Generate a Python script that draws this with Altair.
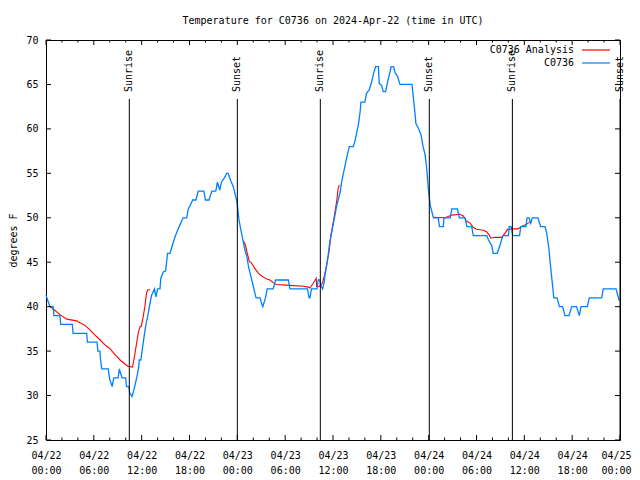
import altair as alt
import pandas as pd

FONT = "DejaVu Sans Mono"
W, H = 574, 400

# ---- data (hours since 2024-04-22 00:00 UTC, degrees F) ----
blue_hours = [0.0, 0.3, 0.5, 0.9, 1.0, 1.75, 1.85, 3.3, 3.4, 5.1, 5.2, 6.4, 6.5, 6.75, 6.85, 7.0, 7.8, 8.0, 8.3, 8.5,
              9.05, 9.2, 9.35, 9.55, 10.0, 10.1, 10.4, 10.5, 10.8, 11.1, 11.4, 11.6, 11.7, 11.9, 12.1, 12.3, 12.5, 12.75,
              13.05, 13.25, 13.6, 13.8, 14.0, 14.3, 14.4, 14.7, 15.0, 15.25, 15.55, 15.75, 16.2, 16.6, 16.9, 17.2, 17.65,
              17.85, 18.2, 18.4, 18.8, 19.1, 19.8, 20.0, 20.45, 20.8, 21.3, 21.5, 21.8, 22.0, 22.45, 22.65, 22.85, 23.2,
              23.5, 23.9, 24.05, 24.2, 24.45, 24.75, 24.95, 25.2, 25.4, 25.7, 26.0, 26.35, 26.85, 27.0, 27.2, 27.5, 27.75,
              28.5, 28.8, 30.4, 30.6, 32.8, 33.0, 33.1, 33.3, 34.0, 34.15, 34.35, 34.45, 34.7, 34.9, 35.0, 35.2, 35.4,
              35.6, 35.85, 36.05, 36.25, 36.45, 36.7, 36.9, 37.1, 37.3, 37.5, 37.8, 38.05, 38.55, 38.8, 39.0, 39.2, 39.4,
              39.5, 40.0, 40.2, 40.55, 40.85, 41.05, 41.35, 41.7, 41.8, 42.1, 42.3, 42.6, 42.85, 43.15, 43.3, 43.6, 43.8,
              44.1, 44.4, 45.9, 46.1, 46.3, 46.4, 46.7, 47.05, 47.3, 47.55, 47.75, 47.95, 48.05, 48.2, 48.4, 48.6, 49.2,
              49.35, 49.85, 49.9, 50.7, 50.9, 51.6, 51.85, 52.55, 52.8, 53.4, 53.6, 55.3, 55.5, 55.9, 56.1, 56.6, 56.95,
              57.3, 58.0, 58.1, 58.35, 58.55, 59.4, 59.55, 60.2, 60.35, 60.6, 60.8, 61.0, 61.7, 62.05, 62.6, 62.8, 63.1,
              63.2, 63.4, 63.55, 63.7, 64.1, 64.4, 64.8, 65.1, 65.6, 65.95, 66.55, 66.9, 67.1, 67.9, 68.15, 69.7, 69.9,
              71.5, 71.8, 71.9]
blue_temps = [41.3, 40.5, 40, 40, 39, 39, 38, 38, 37, 37, 36, 36, 35, 35, 34, 33, 33, 31.8, 31, 32,
              32, 33, 32.5, 32, 32, 31, 31, 30.3, 29.9, 30.9, 32.1, 33, 34, 34, 35.3, 36.6, 37.8, 38.9,
              40.4, 41.3, 42, 41.1, 42, 42, 43.2, 43.9, 44, 46, 46, 46.6, 47.9, 48.8, 49.4, 50, 50,
              51, 51.6, 52, 52, 53, 53, 52, 52, 53, 53, 54, 53.1, 54, 54.6, 55, 55, 54.1,
              53.5, 52, 51.1, 49.8, 48.6, 47.3, 46.4, 45.6, 44.5, 43.4, 42.3, 41, 41, 40.5, 40, 40.9, 42,
              42, 43, 43, 42, 42, 41, 41, 42, 42, 43, 43, 42.4, 42, 42.8, 43.6, 44.6, 45.8,
              47.3, 48.4, 49.4, 50.3, 51.3, 52.2, 52.9, 54.1, 55, 55.8, 57.1, 58, 58, 58.8, 59.7, 60.6, 61.9,
              63, 63, 64, 64.4, 65.3, 66.1, 67, 67, 65.1, 64.9, 64.2, 64.2, 65.3, 66.4, 67, 67, 66.3,
              65.9, 65, 65, 63.4, 61.6, 60.6, 60.1, 59.3, 58, 57.1, 55.6, 53.3, 52.5, 51.4, 50.7, 50, 50,
              49, 49, 50, 50, 51, 51, 50, 50, 49, 49, 48, 48, 47.5, 46.9, 46, 46, 46.9,
              48, 48, 49, 49, 48, 48, 49, 49, 50, 50, 49.4, 50, 50, 49, 49, 48.3, 46.4,
              45.3, 43.6, 42.3, 41, 41, 40, 40, 39, 39, 40, 40, 39, 40, 40, 41, 41, 42,
              42, 41, 40.7]

red_hours = [0.4, 1.1, 1.75, 2.6, 3.85, 4.25, 4.9, 5.5, 6.15, 6.8, 7.4, 8.0, 8.65, 9.3, 9.9, 10.3, 10.85, 11.1,
             11.4, 11.6, 11.8, 11.95, 12.2, 12.4, 12.6, 12.75, 13.05,
             24.75, 25.0, 25.25, 25.5, 25.8, 26.2, 26.6, 27.05, 27.7, 28.1, 28.5, 28.85, 30.6, 32.3, 32.9, 33.1,
             33.5, 33.9, 33.95, 34.3, 34.65, 34.9, 35.2, 35.5, 35.75, 36.05, 36.25, 36.45, 36.65, 36.8,
             48.6, 50.05, 50.9, 51.9, 52.35, 52.75, 53.2, 53.6, 54.0, 54.85, 55.3, 55.6, 55.8, 56.3, 57.15,
             57.6, 57.9, 58.4, 59.25, 59.55, 60.1, 60.5, 60.9]
red_temps = [40.1, 39.6, 39.1, 38.6, 38.4, 38.2, 37.9, 37.4, 36.8, 36.25, 35.7, 35.3, 34.6, 34.0, 33.55, 33.3, 33.2, 34.4,
             36.1, 37.2, 37.75, 37.8, 38.9, 40.0, 41.5, 41.9, 41.9,
             47.4, 47.0, 46.0, 45.1, 44.9, 44.3, 43.8, 43.45, 43.1, 43.0, 42.7, 42.5, 42.4, 42.3, 42.2, 42.1,
             42.6, 43.2, 42.25, 42.3, 42.6, 43.4, 44.7, 46.2, 48.1, 49.6, 50.7, 51.8, 53.3, 53.7,
             50.05, 50.0, 50.3, 50.4, 50.2, 49.6, 49.4, 48.9, 48.7, 48.6, 48.4, 48.05, 47.7, 47.8, 47.8,
             48.3, 48.7, 48.75, 48.75, 49.0, 49.2, 49.4, 49.6]
red_segments = [1] * 27 + [2] * 30 + [3] * 23

sun_hours = [10.45, 24.0, 34.41, 48.08, 58.5, 72.0]
sun_labels = ["Sunrise", "Sunset", "Sunrise", "Sunset", "Sunrise", "Sunset"]

y_ticks = [25, 30, 35, 40, 45, 50, 55, 60, 65, 70]
x_major = [0, 6, 12, 18, 24, 30, 36, 42, 48, 54, 60, 66, 72]
x_minor = [2, 4, 8, 10, 14, 16, 20, 22, 26, 28, 32, 34, 38, 40, 44, 46, 50, 52, 56, 58, 62, 64, 68, 70]

legend_names = ["C0736 Analysis", "C0736"]
legend_colors = ["#ff0000", "#0080ff"]

# ---- shared encodings ----
x_scale = alt.Scale(domain=[0, 72], nice=False, zero=False)
y_scale = alt.Scale(domain=[25, 70], nice=False, zero=False)
x_axis = alt.Axis(values=x_major, ticks=False, domain=False, grid=False, title=None,
                  labelExpr="['04/' + (22 + floor(datum.value / 24)), (datum.value % 24 < 10 ? '0' : '') + (datum.value % 24) + ':00']",
                  labelFont=FONT, labelFontSize=10, labelColor="black", labelPadding=10,
                  labelBaseline="top", labelLineHeight=15, labelAngle=0, labelFlush=False,
                  labelOverlap=False,
                  labelOffset=alt.ExprRef(expr="datum.value == 72 ? -4 : 0"))
y_axis = alt.Axis(values=y_ticks, ticks=False, domain=False, grid=False, title="degrees F",
                  labelFont=FONT, labelFontSize=10, labelColor="black", labelPadding=8,
                  titleFont=FONT, titleFontSize=10, titleFontWeight="normal", titleColor="black",
                  titlePadding=7)
X = alt.X("h:Q", scale=x_scale, axis=x_axis)
Y = alt.Y("t:Q", scale=y_scale, axis=y_axis)

blue_df = pd.DataFrame({"h": blue_hours, "t": blue_temps})
red_df = pd.DataFrame({"h": red_hours, "t": red_temps, "seg": red_segments})
sun_df = pd.DataFrame({"h": sun_hours, "label": sun_labels})
xmaj_df = pd.DataFrame({"h": x_major})
xmin_df = pd.DataFrame({"h": x_minor})
yt_df = pd.DataFrame({"t": y_ticks})

red = alt.Chart(red_df).mark_line(color=legend_colors[0], strokeWidth=1.1).encode(x=X, y=Y, detail="seg:N")
blue = alt.Chart(blue_df).mark_line(color=legend_colors[1], strokeWidth=1.3).encode(x=X, y=Y)

sun_rules = alt.Chart(sun_df).mark_rule(color="black", strokeWidth=1).encode(
    x=X, y=alt.value(59), y2=alt.value(H))
sun_text = alt.Chart(sun_df).mark_text(angle=270, align="left", baseline="middle", font=FONT,
                                        fontSize=10, color="black").encode(
    x=X, y=alt.value(52), text="label:N")

tick_layers = [
    alt.Chart(xmaj_df).mark_rule(color="black").encode(x=X, y=alt.value(H), y2=alt.value(H - 5)),
    alt.Chart(xmaj_df).mark_rule(color="black").encode(x=X, y=alt.value(0), y2=alt.value(5)),
    alt.Chart(xmin_df).mark_rule(color="black").encode(x=X, y=alt.value(H), y2=alt.value(H - 2.5)),
    alt.Chart(xmin_df).mark_rule(color="black").encode(x=X, y=alt.value(0), y2=alt.value(2.5)),
    alt.Chart(yt_df).mark_rule(color="black").encode(y=Y, x=alt.value(0), x2=alt.value(5)),
    alt.Chart(yt_df).mark_rule(color="black").encode(y=Y, x=alt.value(W), x2=alt.value(W - 5)),
]

legend_layers = []
for i, (name, col) in enumerate(zip(legend_names, legend_colors)):
    yy = 10 + 13 * i
    ld = alt.Data(values=[{"label": name}])
    legend_layers.append(alt.Chart(ld).mark_text(align="right", baseline="middle", font=FONT,
                                                 fontSize=10, color="black").encode(
        x=alt.value(528), y=alt.value(yy), text="label:N"))
    legend_layers.append(alt.Chart(ld).mark_rule(color=col, strokeWidth=1.2).encode(
        x=alt.value(536), x2=alt.value(564), y=alt.value(yy)))

chart = alt.layer(red, blue, sun_rules, sun_text, *tick_layers, *legend_layers).properties(
    width=W, height=H,
    title=alt.TitleParams("Temperature for C0736 on 2024-Apr-22 (time in UTC)", font=FONT,
                          fontSize=10, fontWeight="normal", color="black", anchor="middle", offset=9),
    autosize=alt.AutoSizeParams(type="none"),
    padding={"left": 38, "top": 32, "right": 12, "bottom": 38},
    background="white",
).configure_view(stroke="black", strokeWidth=1)

chart.save("out.html", embed_options={"renderer": "svg", "actions": False})
